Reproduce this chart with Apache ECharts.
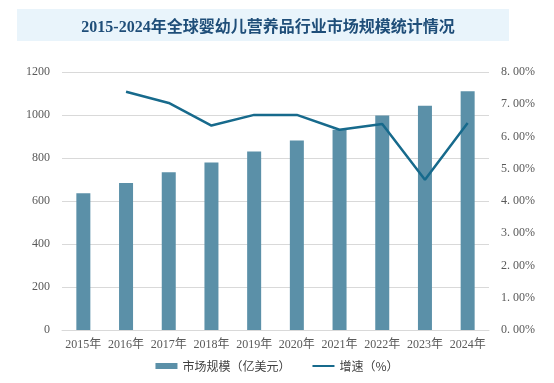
<!DOCTYPE html>
<html><head><meta charset="utf-8">
<script src="https://cdn.jsdelivr.net/npm/echarts@6/dist/echarts.min.js"></script>
<style>html,body{margin:0;padding:0;background:#fff}#c{width:554px;height:383px}</style>
</head><body><div id="c"></div>
<script>
const years = ['2015年','2016年','2017年','2018年','2019年','2020年','2021年','2022年','2023年','2024年'];
const marketSize = [636, 684, 734, 779, 830, 881, 931, 998, 1043, 1110];
const growthRate = [null, 7.39, 7.04, 6.34, 6.67, 6.67, 6.21, 6.39, 4.66, 6.42];
const titleText = '2015-2024年全球婴幼儿营养品行业市场规模统计情况';
const seriesNames = ['市场规模（亿美元）', '增速（%）'];

const chart = echarts.init(document.getElementById('c'));
const tickFont = {fontFamily: 'Liberation Serif, Noto Sans CJK SC', fontSize: 12, color: '#595959'};
chart.setOption({
  backgroundColor: '#fff',
  graphic: [{type: 'rect', left: 17, top: 9, shape: {width: 492, height: 32}, style: {fill: '#e9f4fb'}, z: -1}],
  title: {text: titleText, left: 263, top: 15, textAlign: 'center',
    textStyle: {fontFamily: 'Liberation Serif, Noto Sans CJK SC', fontSize: 16, fontWeight: 'bold', color: '#1f4e79'}},
  grid: {left: 62, right: 65, top: 72, bottom: 53},
  legend: {bottom: 6, left: 'center', itemGap: 22, itemWidth: 22, itemHeight: 6,
    textStyle: {fontFamily: 'Noto Sans CJK SC', fontSize: 12, color: '#404040'},
    data: [{name: seriesNames[0], icon: 'rect'}, {name: seriesNames[1], icon: 'path://M0,0H22V2H0Z'}]},
  xAxis: {type: 'category', data: years,
    axisLine: {show: true, lineStyle: {color: '#d9d9d9'}}, axisTick: {show: false},
    axisLabel: Object.assign({margin: 9, interval: 0}, tickFont)},
  yAxis: [
    {type: 'value', min: 0, max: 1200, interval: 200,
      axisLine: {show: false}, axisTick: {show: false},
      splitLine: {lineStyle: {color: '#d9d9d9'}},
      axisLabel: Object.assign({margin: 12, formatter: v => String(v)}, tickFont)},
    {type: 'value', min: 0, max: 8, interval: 1,
      axisLine: {show: false}, axisTick: {show: false}, splitLine: {show: false},
      axisLabel: Object.assign({margin: 12, formatter: v => v.toFixed(0) + '. 00%'}, tickFont)}
  ],
  series: [
    {name: seriesNames[0], type: 'bar', data: marketSize, barWidth: 14,
      itemStyle: {color: '#5b90a8'}},
    {name: seriesNames[1], type: 'line', yAxisIndex: 1, data: growthRate,
      symbol: 'none', lineStyle: {color: '#176a8c', width: 2.5}, itemStyle: {color: '#176a8c'}}
  ]
});
</script></body></html>
